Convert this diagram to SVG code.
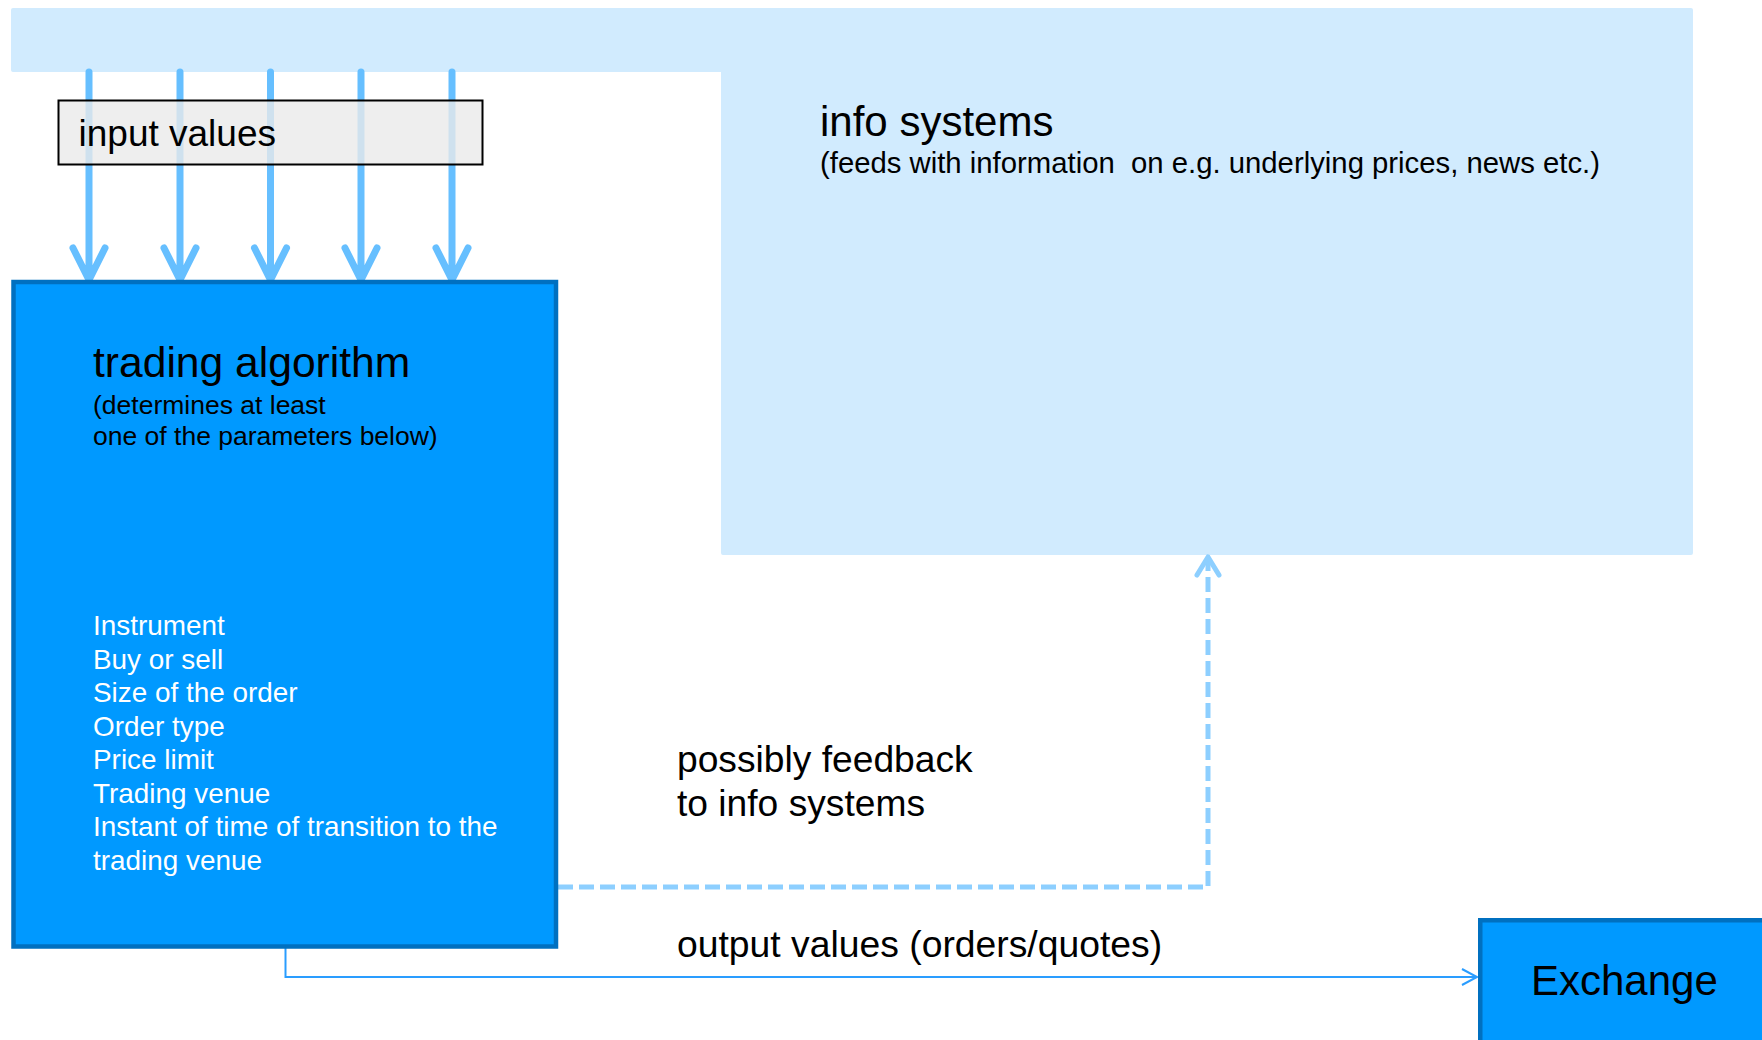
<svg xmlns="http://www.w3.org/2000/svg" width="1762" height="1040" viewBox="0 0 1762 1040">
<style>
text{font-family:"Liberation Sans",Arial,sans-serif;fill:#000}
.in{fill:none;stroke:#66bfff;stroke-width:7;stroke-linecap:round;stroke-linejoin:round}
.fb{fill:none;stroke:#8dcfff;stroke-width:5}
.out{fill:none;stroke:#2a9dff;stroke-width:2}
.blue{fill:#0099ff;stroke:#0070c0;stroke-width:4.5}
.w{fill:#fff}
</style>
<rect width="1762" height="1040" fill="#fff"/>
<g id="info-systems">
<path d="M13 8 H1691 Q1693 8 1693 10 V553 Q1693 555 1691 555 H723 Q721 555 721 553 V72 H13 Q11 72 11 70 V10 Q11 8 13 8 Z" fill="#d1ebfe"/>
<text x="820" y="136" font-size="42">info systems</text>
<text x="820" y="173" font-size="29.3" xml:space="preserve">(feeds with information  on e.g. underlying prices, news etc.)</text>
</g>
<g id="connectors">
<g id="inputs">
<path class="in" d="M89 72 V280 M73 248 L89 280 L105 248"/>
<path class="in" d="M180 72 V280 M164 248 L180 280 L196 248"/>
<path class="in" d="M270.5 72 V280 M254.5 248 L270.5 280 L286.5 248"/>
<path class="in" d="M361 72 V280 M345 248 L361 280 L377 248"/>
<path class="in" d="M452 72 V280 M436 248 L452 280 L468 248"/>
</g>
<g id="feedback">
<path class="fb" d="M558 887 H1208 V560" stroke-dasharray="15 6"/>
<path class="fb" d="M1197 575 L1208 557 L1219 575" stroke-linecap="round" stroke-linejoin="round"/>
</g>
<g id="output">
<path class="out" d="M285.5 948 V977 H1476"/>
<path class="out" d="M1462 969 L1477 977 L1462 985"/>
</g>
</g>
<g id="input-values">
<rect x="58.5" y="100.5" width="424" height="64" fill="#eaeaea" fill-opacity="0.8" stroke="#000" stroke-width="2"/>
<text x="78.5" y="146" font-size="37">input values</text>
</g>
<g id="trading-algorithm">
<rect class="blue" x="13.5" y="282" width="542.5" height="664.5"/>
<text x="93" y="377" font-size="42.6">trading algorithm</text>
<text x="93" y="414" font-size="26.5">(determines at least</text>
<text x="93" y="445" font-size="26.5">one of the parameters below)</text>
<g font-size="27.9">
<text class="w" x="93" y="635">Instrument</text>
<text class="w" x="93" y="668.5">Buy or sell</text>
<text class="w" x="93" y="702">Size of the order</text>
<text class="w" x="93" y="735.5">Order type</text>
<text class="w" x="93" y="769">Price limit</text>
<text class="w" x="93" y="802.5">Trading venue</text>
<text class="w" x="93" y="836">Instant of time of transition to the</text>
<text class="w" x="93" y="869.5">trading venue</text>
</g>
</g>
<g id="labels">
<text x="677" y="772" font-size="37.2">possibly feedback</text>
<text x="677" y="816" font-size="37.2">to info systems</text>
<text x="677" y="957" font-size="37.3">output values (orders/quotes)</text>
</g>
<g id="exchange">
<rect class="blue" x="1480.25" y="920.25" width="320" height="200"/>
<text x="1531" y="995" font-size="42">Exchange</text>
</g>
</svg>
